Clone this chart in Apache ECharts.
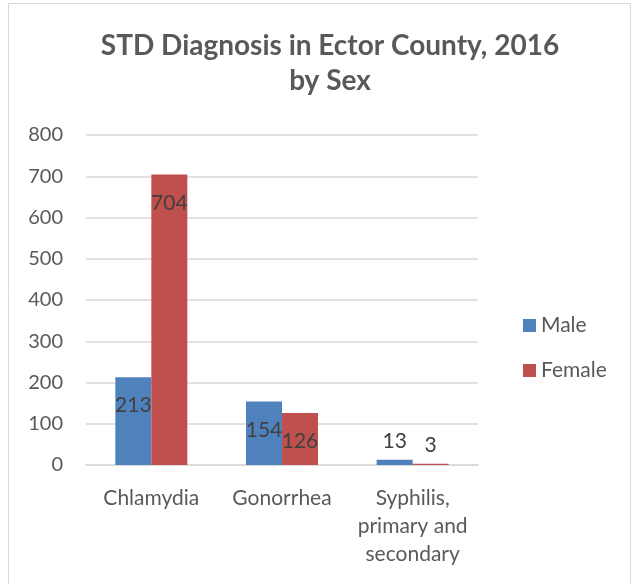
<!DOCTYPE html>
<html><head><meta charset="utf-8">
<script src="https://cdn.jsdelivr.net/npm/echarts@6/dist/echarts.min.js"></script>
<style>html,body{margin:0;padding:0;background:#fff}#c{width:636px;height:584px}</style>
</head><body><div id="c"></div>
<script>
const categories = ['Chlamydia', 'Gonorrhea', 'Syphilis,\nprimary and\nsecondary'];
const maleValues = [213, 154, 13];
const femaleValues = [704, 126, 3];
const seriesNames = ['Male', 'Female'];
const FONT = 'Lato, "Open Sans", sans-serif';
const TXT = '#595959';
function withLabels(vals) {
  return vals.map(v => ({
    value: v,
    label: v < 50 ? { position: 'top', distance: 8 } : { position: 'insideTop', distance: 18 }
  }));
}
const chart = echarts.init(document.getElementById('c'));
chart.setOption({
  animation: false,
  graphic: [{ type: 'rect', shape: { x: 8.5, y: 3.5, width: 622, height: 590 }, style: { fill: 'none', stroke: '#d9d9d9', lineWidth: 1 } }],
  title: {
    text: 'STD Diagnosis in Ector County, 2016\nby Sex',
    left: 325, textAlign: 'center', top: 23,
    textStyle: { fontFamily: FONT, fontSize: 28, fontWeight: 'bold', color: TXT, lineHeight: 35 }
  },
  legend: {
    orient: 'vertical', left: 518, top: 310, itemWidth: 13, itemHeight: 13, itemGap: 24,
    icon: 'rect',
    textStyle: { fontFamily: FONT, fontSize: 21, color: TXT }
  },
  grid: { left: 86, right: 158, top: 135, bottom: 119 },
  xAxis: {
    type: 'category', data: categories,
    axisLine: { lineStyle: { color: '#d9d9d9', width: 1.5 } },
    axisTick: { show: false },
    axisLabel: { fontFamily: FONT, fontSize: 21, color: TXT, margin: 19, lineHeight: 28, interval: 0 }
  },
  yAxis: {
    type: 'value', min: 0, max: 800, interval: 100,
    axisLine: { show: false }, axisTick: { show: false },
    splitLine: { lineStyle: { color: '#d9d9d9', width: 1.5 } },
    axisLabel: { fontFamily: FONT, fontSize: 20, color: TXT, margin: 23 }
  },
  series: [
    { name: seriesNames[0], type: 'bar', data: withLabels(maleValues), barWidth: 36, barGap: '0%',
      itemStyle: { color: '#4f81bd' },
      label: { show: true, fontFamily: FONT, fontSize: 21, color: '#404040' } },
    { name: seriesNames[1], type: 'bar', data: withLabels(femaleValues), barWidth: 36, barGap: '0%',
      itemStyle: { color: '#c0504d' },
      label: { show: true, fontFamily: FONT, fontSize: 21, color: '#404040' } }
  ]
});
</script></body></html>
